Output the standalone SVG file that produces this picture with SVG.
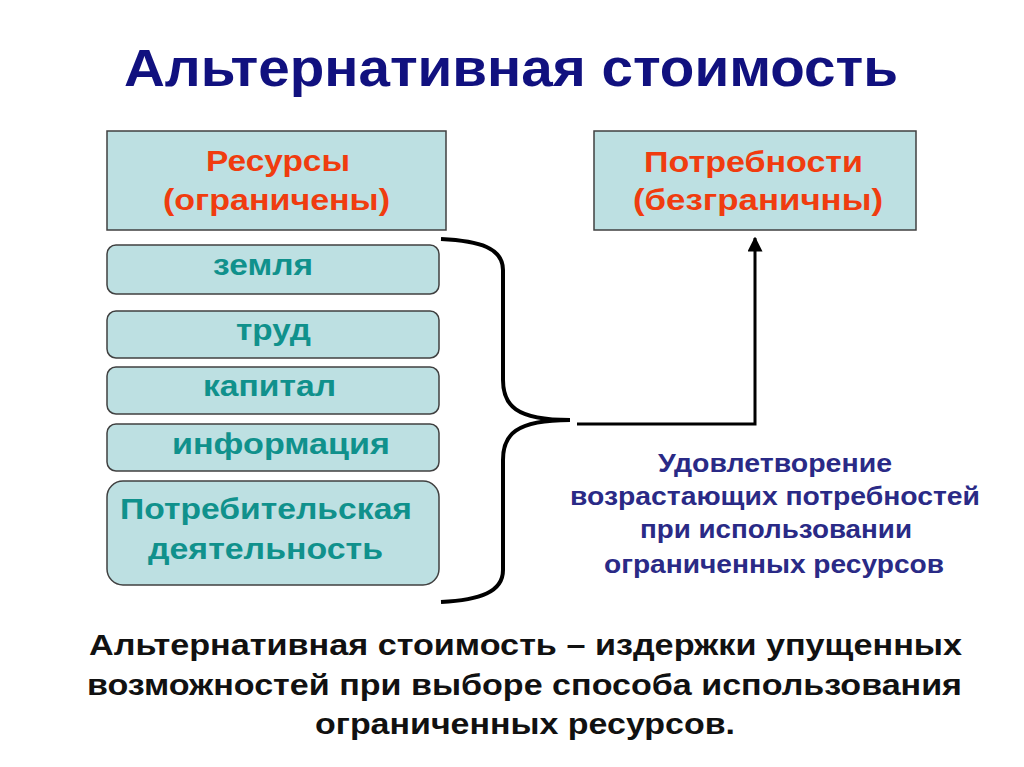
<svg xmlns="http://www.w3.org/2000/svg" width="1024" height="767" viewBox="0 0 1024 767">
<style>
text{font-family:"Liberation Sans",Arial,sans-serif;font-weight:bold}
.box{fill:#bde0e2;stroke:#404040;stroke-width:1.5}
.hdr{fill:#f03c0f;font-size:29px}
.res{fill:#10918c;font-size:30px}
.blue{fill:#2a2a86;font-size:25px}
.bot{fill:#111;font-size:30px}
.conn{fill:none;stroke:#000;stroke-width:3}
.brace{fill:none;stroke:#000;stroke-width:4}
</style>
<defs>
<marker id="arr" viewBox="0 0 10 10" refX="9" refY="5" markerWidth="5" markerHeight="5" orient="auto" markerUnits="strokeWidth">
<path d="M0,0 L10,5 L0,10 Z" fill="#000"/>
</marker>
</defs>
<rect width="1024" height="767" fill="#fff"/>
<text x="124" y="86" textLength="774" lengthAdjust="spacingAndGlyphs" style="fill:#11117f;font-size:51px">Альтернативная стоимость</text>
<g id="resources">
<rect class="box" x="107" y="131" width="339" height="99"/>
<text class="hdr" x="206" y="171" textLength="144" lengthAdjust="spacingAndGlyphs">Ресурсы</text>
<text class="hdr" x="163" y="210" textLength="227" lengthAdjust="spacingAndGlyphs">(ограничены)</text>
</g>
<g id="needs">
<rect class="box" x="594" y="131" width="322" height="99"/>
<text class="hdr" x="644" y="172" textLength="219" lengthAdjust="spacingAndGlyphs">Потребности</text>
<text class="hdr" x="633" y="210" textLength="250" lengthAdjust="spacingAndGlyphs">(безграничны)</text>
</g>
<g id="land">
<rect class="box" x="107" y="245" width="332" height="49" rx="9"/>
<text class="res" x="213" y="275" textLength="100" lengthAdjust="spacingAndGlyphs">земля</text>
</g>
<g id="labor">
<rect class="box" x="107" y="311" width="332" height="47" rx="9"/>
<text class="res" x="236" y="340" textLength="75" lengthAdjust="spacingAndGlyphs">труд</text>
</g>
<g id="capital">
<rect class="box" x="107" y="367" width="332" height="47" rx="9"/>
<text class="res" x="203" y="396" textLength="133" lengthAdjust="spacingAndGlyphs">капитал</text>
</g>
<g id="information">
<rect class="box" x="107" y="424" width="332" height="47" rx="9"/>
<text class="res" x="172" y="454" textLength="218" lengthAdjust="spacingAndGlyphs">информация</text>
</g>
<g id="consumer">
<rect class="box" x="107" y="481" width="332" height="104" rx="16"/>
<text class="res" x="120" y="519" textLength="292" lengthAdjust="spacingAndGlyphs">Потребительская</text>
<text class="res" x="148" y="559" textLength="235" lengthAdjust="spacingAndGlyphs">деятельность</text>
</g>
<g id="connectors">
<path class="brace" d="M441,239 C480,241 503,248 503,270 L503,380 C503,405 515,420 570,420 C515,420 503,435 503,460 L503,570 C503,592 480,600 441,602"/>
<path class="conn" d="M577,424 L755,424 L755,238" marker-end="url(#arr)"/>
</g>
<g id="note">
<text class="blue" x="658" y="472" textLength="234" lengthAdjust="spacingAndGlyphs">Удовлетворение</text>
<text class="blue" x="570" y="505" textLength="410" lengthAdjust="spacingAndGlyphs">возрастающих потребностей</text>
<text class="blue" x="640" y="538" textLength="272" lengthAdjust="spacingAndGlyphs">при использовании</text>
<text class="blue" x="604" y="573" textLength="340" lengthAdjust="spacingAndGlyphs">ограниченных ресурсов</text>
</g>
<g id="definition">
<text class="bot" x="89" y="655" textLength="873" lengthAdjust="spacingAndGlyphs">Альтернативная стоимость – издержки упущенных</text>
<text class="bot" x="87" y="695" textLength="875" lengthAdjust="spacingAndGlyphs">возможностей при выборе способа использования</text>
<text class="bot" x="315" y="734" textLength="420" lengthAdjust="spacingAndGlyphs">ограниченных ресурсов.</text>
</g>
</svg>
